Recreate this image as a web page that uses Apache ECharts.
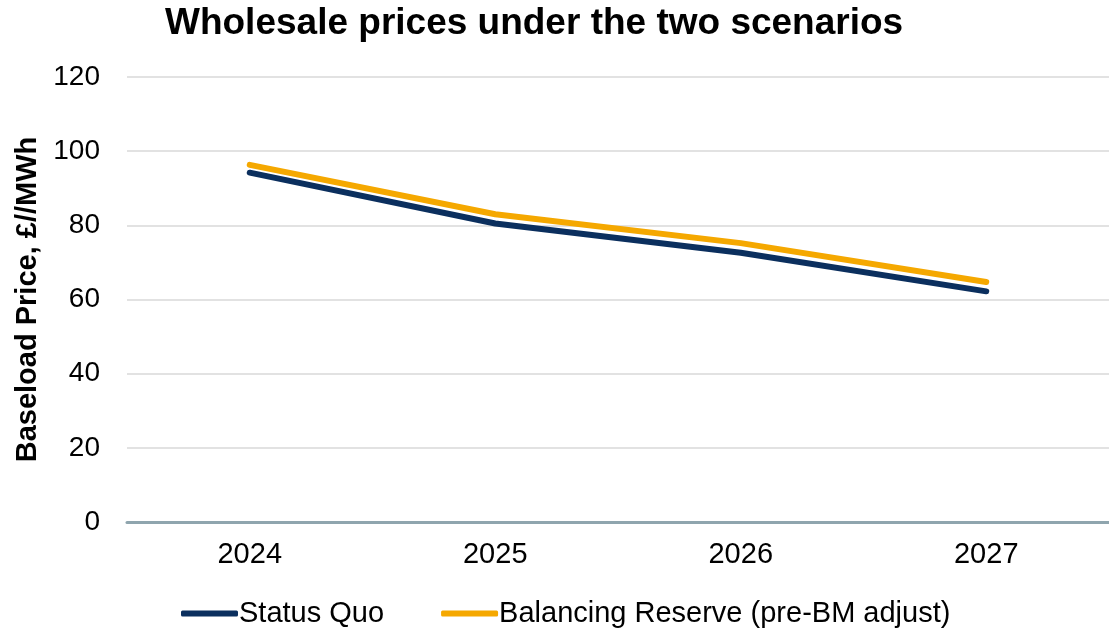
<!DOCTYPE html>
<html>
<head>
<meta charset="utf-8">
<script src="https://cdn.jsdelivr.net/npm/echarts@6/dist/echarts.min.js"></script>
<style>
  html, body { margin: 0; padding: 0; background: #fff; }
</style>
</head>
<body>
<div id="chart" style="width: 1109px; height: 630px;"></div>
<script>
// data
const years = ['2024', '2025', '2026', '2027'];
const statusQuo = [94.2, 80.5, 72.6, 62.2];
const balancingReserve = [96.3, 83.0, 75.2, 64.7];
const seriesNames = ['Status Quo', 'Balancing Reserve (pre-BM adjust)'];

const chart = echarts.init(document.getElementById('chart'));
const font = 'Liberation Sans, Arial, sans-serif';

const option = {
  animation: false,
  title: {
    text: 'Wholesale prices under the two scenarios',
    left: 160,
    top: 0,
    textStyle: { fontFamily: font, fontSize: 37, fontWeight: 'bold', color: '#000' }
  },
  legend: {
    data: seriesNames,
    left: 176,
    top: 594,
    icon: 'roundRect',
    itemWidth: 57,
    itemHeight: 6,
    itemGap: 57,
    textStyle: { fontFamily: font, fontSize: 29, color: '#000', padding: [0, 0, 0, -4] }
  },
  grid: {
    left: 127,
    top: 77,
    width: 988,
    height: 445
  },
  xAxis: {
    type: 'category',
    data: years,
    boundaryGap: true,
    axisLine: { lineStyle: { color: '#8fa5ae', width: 3 } },
    axisTick: { show: false },
    axisLabel: { fontFamily: font, fontSize: 29, color: '#000', margin: 18 }
  },
  yAxis: {
    type: 'value',
    min: 0,
    max: 120,
    interval: 20,
    name: 'Baseload Price, £//MWh',
    nameLocation: 'middle',
    nameGap: 84,
    nameTextStyle: { fontFamily: font, fontSize: 29, fontWeight: 'bold', color: '#000' },
    axisLine: { show: false },
    axisTick: { show: false },
    axisLabel: { fontFamily: font, fontSize: 28, color: '#000', margin: 27 },
    splitLine: { lineStyle: { color: '#d9d9d9', width: 1.5 } }
  },
  series: [
    {
      name: seriesNames[0],
      type: 'line',
      data: statusQuo,
      symbol: 'none',
      color: '#0b2f5e',
      lineStyle: { width: 6, cap: 'round', join: 'round' },
      z: 3
    },
    {
      name: seriesNames[1],
      type: 'line',
      data: balancingReserve,
      symbol: 'none',
      color: '#f5a800',
      lineStyle: { width: 6, cap: 'round', join: 'round' },
      z: 2
    }
  ]
};

chart.setOption(option);
</script>
</body>
</html>
